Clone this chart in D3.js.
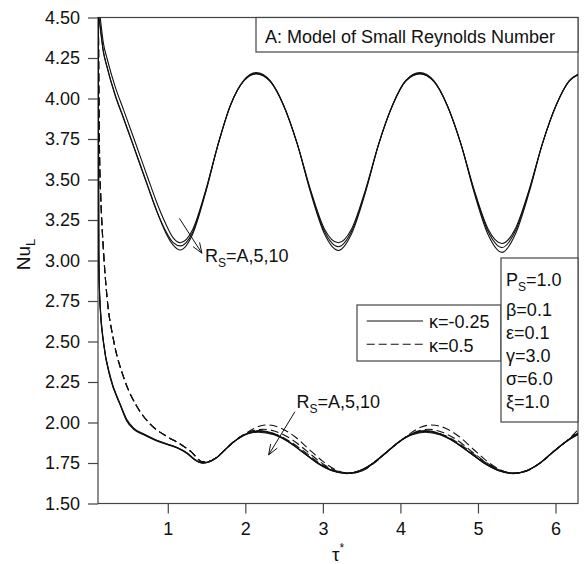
<!DOCTYPE html>
<html>
<head>
<meta charset="utf-8">
<script src="https://cdn.jsdelivr.net/npm/d3@7"></script>
<style>
  body { margin: 0; background: #fff; }
  svg text { font-family: "Liberation Sans", Arial, sans-serif; fill: #111; }
</style>
</head>
<body>
<div id="graph"></div>
<script>
// axis ticks
var xTicks = [1, 2, 3, 4, 5, 6];
var yTicks = [1.50, 1.75, 2.00, 2.25, 2.50, 2.75, 3.00, 3.25, 3.50, 3.75, 4.00, 4.25, 4.50];

// upper group (solid), Rs = A, 5, 10
var topT = [0.115, 0.13, 0.17, 0.215, 0.32, 0.43, 0.55, 0.65, 0.75, 0.86, 0.97, 1.07, 1.16, 1.32, 1.49, 1.65, 1.81, 1.98, 2.14, 2.32, 2.49, 2.67, 2.84, 3.02, 3.20, 3.37, 3.55, 3.72, 3.90, 4.07, 4.25, 4.43, 4.60, 4.78, 4.95, 5.13, 5.31, 5.48, 5.66, 5.83, 6.01, 6.18, 6.29];
var topRsA = [4.56, 4.495, 4.34, 4.25, 4.075, 3.93, 3.77, 3.635, 3.50, 3.355, 3.23, 3.14, 3.11, 3.19, 3.435, 3.72, 3.96, 4.108, 4.152, 4.105, 3.96, 3.72, 3.438, 3.195, 3.11, 3.195, 3.438, 3.72, 3.96, 4.108, 4.152, 4.105, 3.96, 3.72, 3.438, 3.195, 3.105, 3.195, 3.438, 3.72, 3.96, 4.108, 4.145];
var topRs5 = [4.50, 4.44, 4.29, 4.20, 4.025, 3.88, 3.72, 3.585, 3.45, 3.305, 3.185, 3.11, 3.09, 3.175, 3.43, 3.72, 3.96, 4.11, 4.155, 4.108, 3.962, 3.72, 3.43, 3.18, 3.085, 3.18, 3.43, 3.72, 3.96, 4.11, 4.155, 4.108, 3.962, 3.72, 3.43, 3.18, 3.08, 3.18, 3.43, 3.72, 3.96, 4.11, 4.148];
var topRs10 = [4.49, 4.43, 4.285, 4.195, 4.02, 3.875, 3.715, 3.58, 3.445, 3.30, 3.175, 3.095, 3.065, 3.162, 3.422, 3.718, 3.962, 4.112, 4.16, 4.11, 3.962, 3.718, 3.422, 3.165, 3.062, 3.165, 3.422, 3.718, 3.962, 4.112, 4.16, 4.11, 3.962, 3.718, 3.42, 3.16, 3.05, 3.16, 3.42, 3.718, 3.962, 4.112, 4.15];

// lower group, kappa = -0.25 (solid)
var botT = [0.104, 0.107, 0.11, 0.12, 0.13, 0.172, 0.258, 0.387, 0.47, 0.56, 0.70, 0.85, 1.0, 1.12, 1.25, 1.35, 1.45, 1.53, 1.635, 1.74, 1.85, 1.98, 2.07, 2.17, 2.37, 2.56, 2.745, 2.93, 3.12, 3.31, 3.48, 3.65, 3.815, 3.98, 4.15, 4.32, 4.51, 4.70, 4.89, 5.08, 5.27, 5.46, 5.63, 5.80, 5.96, 6.13, 6.29];
var botSolidA = [4.60, 3.60, 3.05, 2.80, 2.70, 2.49, 2.28, 2.11, 2.015, 1.962, 1.925, 1.89, 1.865, 1.845, 1.81, 1.77, 1.75, 1.757, 1.785, 1.832, 1.88, 1.922, 1.938, 1.945, 1.927, 1.880, 1.815, 1.750, 1.703, 1.686, 1.703, 1.750, 1.815, 1.880, 1.927, 1.945, 1.927, 1.880, 1.815, 1.750, 1.703, 1.686, 1.703, 1.750, 1.815, 1.880, 1.928];
var botSolid5 = [4.60, 3.62, 3.07, 2.81, 2.71, 2.495, 2.285, 2.113, 2.02, 1.965, 1.927, 1.892, 1.866, 1.846, 1.812, 1.772, 1.752, 1.758, 1.786, 1.832, 1.879, 1.92, 1.935, 1.94, 1.924, 1.879, 1.816, 1.752, 1.705, 1.688, 1.704, 1.751, 1.815, 1.879, 1.924, 1.94, 1.924, 1.879, 1.816, 1.752, 1.705, 1.688, 1.704, 1.751, 1.815, 1.879, 1.925];
var botSolid10 = [4.60, 3.58, 3.04, 2.79, 2.69, 2.485, 2.275, 2.107, 2.01, 1.958, 1.922, 1.888, 1.863, 1.843, 1.808, 1.768, 1.748, 1.756, 1.784, 1.833, 1.881, 1.924, 1.94, 1.95, 1.931, 1.883, 1.816, 1.749, 1.702, 1.684, 1.702, 1.749, 1.815, 1.881, 1.93, 1.95, 1.931, 1.883, 1.816, 1.749, 1.702, 1.684, 1.702, 1.749, 1.815, 1.881, 1.932];

// lower group, kappa = 0.5 (dashed)
var dashAT = [0.104, 0.108, 0.115, 0.122, 0.135, 0.172, 0.215, 0.30, 0.43, 0.60, 0.774, 1.0, 1.15, 1.3, 1.45, 1.53, 1.635, 1.74, 1.85, 1.98, 2.1, 2.2, 2.28, 2.46, 2.64, 2.82, 3.0, 3.18, 3.36, 3.5, 3.65, 3.815, 3.98, 4.12, 4.26, 4.40, 4.58, 4.76, 4.94, 5.12, 5.30, 5.48, 5.63, 5.80, 5.96, 6.13, 6.29];
var dashA = [4.60, 4.30, 3.85, 3.60, 3.40, 3.05, 2.78, 2.51, 2.28, 2.10, 1.99, 1.91, 1.87, 1.82, 1.757, 1.76, 1.787, 1.833, 1.881, 1.925, 1.96, 1.98, 1.985, 1.965, 1.912, 1.835, 1.76, 1.705, 1.686, 1.70, 1.745, 1.812, 1.878, 1.93, 1.97, 1.985, 1.965, 1.912, 1.835, 1.76, 1.705, 1.686, 1.70, 1.748, 1.813, 1.88, 1.955];
var dash5T = [0.104, 0.108, 0.115, 0.122, 0.135, 0.172, 0.215, 0.30, 0.43, 0.60, 0.774, 1.0, 1.15, 1.3, 1.45, 1.53, 1.635, 1.74, 1.85, 1.98, 2.1, 2.24, 2.42, 2.6, 2.79, 2.97, 3.16, 3.34, 3.5, 3.65, 3.815, 3.98, 4.14, 4.36, 4.54, 4.72, 4.91, 5.10, 5.29, 5.48, 5.63, 5.80, 5.96, 6.13, 6.29];
var dash5 = [4.60, 4.30, 3.85, 3.60, 3.40, 3.05, 2.78, 2.51, 2.28, 2.10, 1.99, 1.91, 1.87, 1.82, 1.757, 1.76, 1.787, 1.833, 1.881, 1.925, 1.95, 1.958, 1.94, 1.895, 1.825, 1.755, 1.704, 1.686, 1.70, 1.747, 1.813, 1.879, 1.93, 1.958, 1.94, 1.895, 1.825, 1.755, 1.704, 1.686, 1.702, 1.749, 1.814, 1.88, 1.942];
var dash10T = [0.104, 0.108, 0.115, 0.122, 0.135, 0.172, 0.215, 0.30, 0.43, 0.60, 0.774, 1.0, 1.15, 1.3, 1.45, 1.53, 1.635, 1.74, 1.85, 1.98, 2.08, 2.2, 2.39, 2.58, 2.77, 2.95, 3.14, 3.32, 3.49, 3.65, 3.815, 3.98, 4.15, 4.34, 4.53, 4.72, 4.91, 5.10, 5.29, 5.47, 5.63, 5.80, 5.96, 6.13, 6.29];
var dash10 = [4.60, 4.30, 3.85, 3.60, 3.40, 3.05, 2.78, 2.51, 2.28, 2.10, 1.99, 1.91, 1.87, 1.82, 1.757, 1.76, 1.787, 1.833, 1.881, 1.925, 1.938, 1.945, 1.928, 1.882, 1.817, 1.752, 1.704, 1.686, 1.702, 1.749, 1.814, 1.879, 1.927, 1.945, 1.928, 1.882, 1.817, 1.752, 1.704, 1.686, 1.703, 1.75, 1.815, 1.88, 1.935];

// parameter list
var paramNames = ["β", "ε", "γ", "σ", "ξ"];
var paramValues = ["0.1", "0.1", "3.0", "6.0", "1.0"];

// set the dimensions and margins of the graph
var margin = {top: 17.5, right: 7, bottom: 60.5, left: 98};
var width = 585 - margin.left - margin.right;
var height = 564 - margin.top - margin.bottom;

// set the ranges
var graphX = d3.scaleLinear().domain([0.1, 6.29]).range([0, width]);
var graphY = d3.scaleLinear().domain([1.5, 4.5]).range([height, 0]);

var curveLine = d3.line()
  .x(function(d) { return graphX(d[0]); })
  .y(function(d) { return graphY(d[1]); })
  .curve(d3.curveMonotoneX);

var root = d3.select("#graph")
  .append("svg")
  .attr("width", 585)
  .attr("height", 564);

var svg = root.append("g")
  .attr("transform", "translate(" + margin.left + "," + margin.top + ")");

svg.append("clipPath")
  .attr("id", "plot_clip")
  .append("rect")
  .attr("width", width)
  .attr("height", height);

// axes
var yAxis = svg.append("g")
  .call(d3.axisLeft(graphY).tickValues(yTicks).tickSize(10).tickSizeOuter(0).tickPadding(8).tickFormat(d3.format(".2f")));
var xAxis = svg.append("g")
  .attr("transform", "translate(0," + height + ")")
  .call(d3.axisBottom(graphX).tickValues(xTicks).tickSize(10).tickSizeOuter(0).tickPadding(9).tickFormat(d3.format("d")));

[xAxis, yAxis].forEach(function(ax) {
  ax.select(".domain").remove();
  ax.selectAll("line").attr("stroke", "#444").attr("stroke-width", 1.2);
  ax.selectAll("text").style("font-size", "18px").attr("fill", "#111");
});

// frame
svg.append("rect")
  .attr("width", width)
  .attr("height", height)
  .attr("fill", "none")
  .attr("stroke", "#444")
  .attr("stroke-width", 1.2);

// curves
var plot = svg.append("g").attr("clip-path", "url(#plot_clip)");

var solidSeries = [
  [topT, topRsA], [topT, topRs5], [topT, topRs10],
  [botT, botSolidA], [botT, botSolid5], [botT, botSolid10]
];
var dashedSeries = [[dashAT, dashA], [dash5T, dash5], [dash10T, dash10]];

solidSeries.forEach(function(s) {
  plot.append("path")
    .datum(d3.zip(s[0], s[1]))
    .attr("fill", "none")
    .attr("stroke", "#111")
    .attr("stroke-width", 1.1)
    .attr("d", curveLine);
});

dashedSeries.forEach(function(s) {
  plot.append("path")
    .datum(d3.zip(s[0], s[1]))
    .attr("fill", "none")
    .attr("stroke", "#111")
    .attr("stroke-width", 1.1)
    .style("stroke-dasharray", ("8, 4"))
    .attr("d", curveLine);
});

// text with a subscript
function subText(g, x, y, main, sub, rest, size) {
  size = size || 18;
  var t = g.append("text").attr("x", x).attr("y", y).style("font-size", size + "px");
  t.append("tspan").text(main);
  t.append("tspan").text(sub).style("font-size", Math.round(size * 0.68) + "px").attr("dy", 5);
  t.append("tspan").text(rest).attr("dy", -5);
  return t;
}

// open arrow between two data points
function addArrow(from, to) {
  var x1 = graphX(from[0]), y1 = graphY(from[1]);
  var x2 = graphX(to[0]), y2 = graphY(to[1]);
  var ang = Math.atan2(y2 - y1, x2 - x1);
  var len = 11, spread = 0.36;
  var p = "M" + x1 + "," + y1 + "L" + x2 + "," + y2 +
    "M" + (x2 - len * Math.cos(ang - spread)) + "," + (y2 - len * Math.sin(ang - spread)) +
    "L" + x2 + "," + y2 +
    "L" + (x2 - len * Math.cos(ang + spread)) + "," + (y2 - len * Math.sin(ang + spread));
  svg.append("path").attr("d", p).attr("fill", "none").attr("stroke", "#111").attr("stroke-width", 1);
}

// Rs annotations
addArrow([1.15, 3.26], [1.44, 3.045]);
subText(svg, graphX(1.48), graphY(2.99), "R", "S", "=A,5,10");
addArrow([2.64, 2.067], [2.30, 1.80]);
subText(svg, graphX(2.66), graphY(2.09), "R", "S", "=A,5,10");

// title box
svg.append("rect")
  .attr("x", 158).attr("y", 0)
  .attr("width", width - 158).attr("height", 34.5)
  .attr("fill", "#fff").attr("stroke", "#444").attr("stroke-width", 1.2);
svg.append("text")
  .attr("x", 167).attr("y", 25)
  .style("font-size", "18px")
  .text("A: Model of Small Reynolds Number");

// legend
var legend = svg.append("g").attr("transform", "translate(259,287.5)");
legend.append("rect")
  .attr("width", 144).attr("height", 56)
  .attr("fill", "#fff").attr("stroke", "#444").attr("stroke-width", 1.2);
legend.append("line")
  .attr("x1", 9.7).attr("x2", 66).attr("y1", 16).attr("y2", 16)
  .attr("stroke", "#111").attr("stroke-width", 1.1);
legend.append("line")
  .attr("x1", 9.7).attr("x2", 66).attr("y1", 39.3).attr("y2", 39.3)
  .attr("stroke", "#111").attr("stroke-width", 1.1)
  .style("stroke-dasharray", ("8, 4"));
legend.append("text").attr("x", 72).attr("y", 23).style("font-size", "18px").text("κ=-0.25");
legend.append("text").attr("x", 72).attr("y", 46.5).style("font-size", "18px").text("κ=0.5");

// parameter box
var params = svg.append("g").attr("transform", "translate(403,240.5)");
params.append("rect")
  .attr("width", width - 403).attr("height", 164)
  .attr("fill", "#fff").attr("stroke", "#444").attr("stroke-width", 1.2);
subText(params, 5, 28, "P", "S", "=1.0");
params.selectAll("text.param")
  .data(paramNames)
  .enter()
  .append("text")
  .attr("class", "param")
  .attr("x", 5)
  .attr("y", function(d, i) { return 58 + i * 23; })
  .style("font-size", "18px")
  .text(function(d, i) { return d + "=" + paramValues[i]; });

// axis titles
var yTitle = root.append("text")
  .attr("transform", "translate(30," + (margin.top + graphY(3.0) - 6) + ") rotate(-90)")
  .attr("text-anchor", "middle")
  .style("font-size", "19px");
yTitle.append("tspan").text("Nu");
yTitle.append("tspan").text("L").style("font-size", "13px").attr("dy", 5);

var xTitle = root.append("text")
  .attr("x", margin.left + width / 2)
  .attr("y", 561)
  .attr("text-anchor", "middle")
  .style("font-size", "19px");
xTitle.append("tspan").text("τ");
xTitle.append("tspan").text("*").style("font-size", "12px").attr("dy", -9);
</script>
</body>
</html>
